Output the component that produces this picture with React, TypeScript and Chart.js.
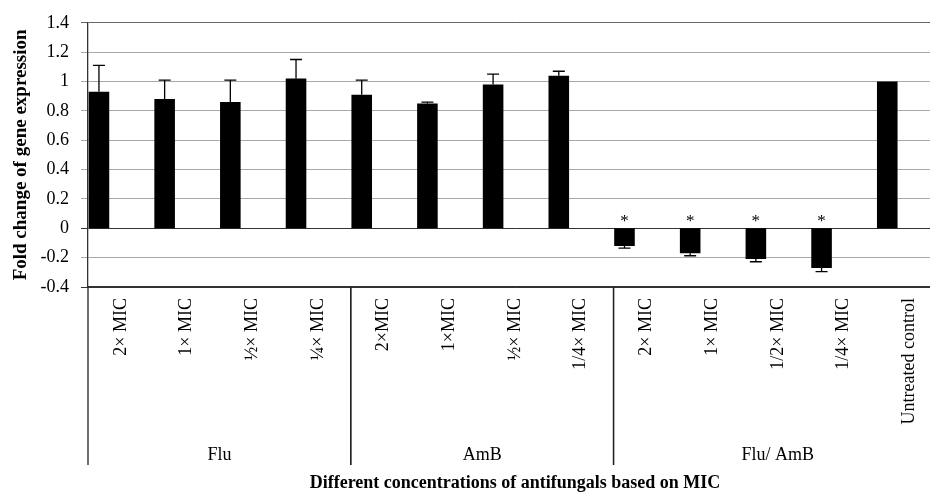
import React, { useEffect, useRef } from 'react';
import { Chart, registerables } from 'chart.js';

Chart.register(...registerables);

const categories = [
  '2× MIC', '1× MIC', '½× MIC', '¼× MIC',
  '2×MIC', '1×MIC', '½× MIC', '1/4× MIC',
  '2× MIC', '1× MIC', '1/2× MIC', '1/4× MIC',
  'Untreated control',
];
const groupNames = ['Flu', 'AmB', 'Flu/ AmB'];
const groupSizes = [4, 4, 5];
const values = [0.93, 0.88, 0.86, 1.02, 0.91, 0.85, 0.98, 1.04, -0.12, -0.17, -0.21, -0.27, 1.0];
const errors = [0.18, 0.13, 0.15, 0.13, 0.1, 0.01, 0.07, 0.03, 0.015, 0.017, 0.018, 0.025, 0.0];
const significant = [false, false, false, false, false, false, false, false, true, true, true, true, false];
const yMin = -0.4;
const yMax = 1.4;
const yStep = 0.2;
const yTitle = 'Fold change of gene expression';
const xTitle = 'Different concentrations of antifungals based on MIC';

const FONT = '"Liberation Serif", "Times New Roman", serif';
const W = 950;
const H = 495;
const AXIS_BOTTOM = 465;

const annotPlugin = {
  id: 'annot',
  afterDatasetsDraw(chart: any) {
    const ctx = chart.ctx;
    const meta = chart.getDatasetMeta(0);
    const ys = chart.scales.y;
    const zeroY = ys.getPixelForValue(0);
    ctx.save();
    ctx.strokeStyle = '#000';
    ctx.lineWidth = 1.3;
    meta.data.forEach((bar: any, i: number) => {
      const v = values[i];
      const e = errors[i];
      const x = bar.x;
      if (e > 0) {
        const y0 = ys.getPixelForValue(v);
        const y1 = ys.getPixelForValue(v + Math.sign(v) * e);
        ctx.beginPath();
        ctx.moveTo(x, y0);
        ctx.lineTo(x, y1);
        ctx.moveTo(x - 6, y1);
        ctx.lineTo(x + 6, y1);
        ctx.stroke();
      }
      if (significant[i]) {
        ctx.fillStyle = '#000';
        ctx.font = `17px ${FONT}`;
        ctx.textAlign = 'center';
        ctx.textBaseline = 'alphabetic';
        ctx.fillText('*', x, zeroY - 2);
      }
    });
    ctx.restore();
  },
  afterDraw(chart: any) {
    const ctx = chart.ctx;
    const xs = chart.scales.x;
    const area = chart.chartArea;
    ctx.save();
    ctx.strokeStyle = '#222';
    ctx.lineWidth = 1.3;
    ctx.fillStyle = '#000';
    ctx.font = `18px ${FONT}`;
    ctx.textAlign = 'center';
    ctx.textBaseline = 'middle';
    let start = 0;
    groupSizes.forEach((n, g) => {
      const left = xs.getPixelForValue(start - 0.5);
      const right = xs.getPixelForValue(start + n - 0.5);
      ctx.beginPath();
      ctx.moveTo(left, area.bottom);
      ctx.lineTo(left, AXIS_BOTTOM);
      ctx.moveTo(right, area.bottom);
      ctx.lineTo(right, AXIS_BOTTOM);
      ctx.stroke();
      ctx.fillText(groupNames[g], (left + right) / 2, 455);
      start += n;
    });
    ctx.restore();
  },
};

export default function App() {
  const ref = useRef<HTMLCanvasElement | null>(null);
  useEffect(() => {
    if (!ref.current) return;
    const gridColor = (c: any) => {
      const v = Math.round((c.tick?.value ?? 0) * 10) / 10;
      if (v === 0 || v === yMin) return '#333';
      if (v === yMax) return '#666';
      return '#a8a8a8';
    };
    const chart = new Chart(ref.current, {
      type: 'bar',
      data: {
        labels: categories,
        datasets: [
          { data: values, backgroundColor: '#000', borderWidth: 0 },
          { data: categories.map(() => null), backgroundColor: '#000' },
          { data: categories.map(() => null), backgroundColor: '#000' },
        ],
      },
      options: {
        animation: false,
        responsive: false,
        maintainAspectRatio: false,
        devicePixelRatio: 1,
        datasets: { bar: { categoryPercentage: 1, barPercentage: 0.94 } },
        layout: { padding: { left: 0, right: 8, top: 21, bottom: 0 } },
        plugins: { legend: { display: false }, tooltip: { enabled: false } },
        scales: {
          x: {
            type: 'category',
            offset: true,
            grid: { display: false, drawTicks: false },
            border: { display: true, color: '#333', width: 1.3 },
            ticks: {
              autoSkip: false,
              minRotation: 90,
              maxRotation: 90,
              padding: 11,
              color: '#000',
              font: { family: FONT, size: 18 },
            },
            title: {
              display: true,
              text: xTitle,
              color: '#000',
              font: { family: FONT, size: 18, weight: 'bold' },
              padding: { top: 0, bottom: 1 },
            },
            afterFit: (s: any) => {
              s.height = 208;
            },
          },
          y: {
            min: yMin,
            max: yMax,
            grid: { color: gridColor, lineWidth: 1, tickLength: 7 },
            border: { display: true, color: '#333', width: 1.3 },
            ticks: {
              stepSize: yStep,
              padding: 12,
              color: '#000',
              font: { family: FONT, size: 18 },
              callback: (v: any) => String(Number(Number(v).toFixed(1))),
            },
            title: {
              display: true,
              text: yTitle,
              color: '#000',
              font: { family: FONT, size: 19, weight: 'bold' },
              padding: { top: 10, bottom: 0 },
            },
            afterFit: (s: any) => {
              s.width = 88;
            },
          },
        },
      },
      plugins: [annotPlugin],
    });
    return () => chart.destroy();
  }, []);
  return (
    <div
      style={{
        position: 'fixed',
        left: 0,
        top: 0,
        width: 930,
        height: 495,
        overflow: 'hidden',
        background: '#fff',
      }}
    >
      <canvas ref={ref} width={W} height={H} style={{ width: W, height: H, display: 'block' }} />
    </div>
  );
}
